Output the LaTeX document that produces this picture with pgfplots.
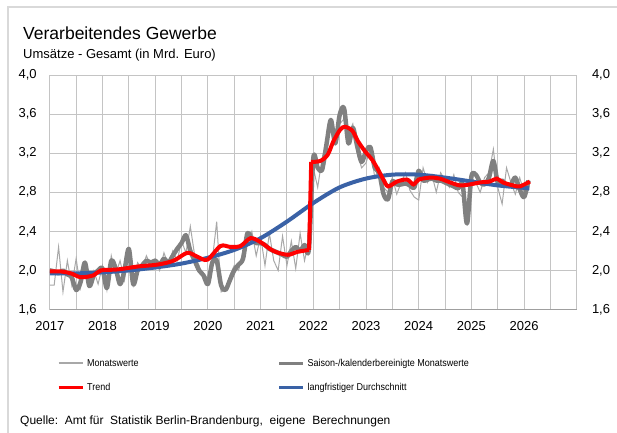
\documentclass[border=0pt]{standalone}
\usepackage{pgfplots}
\pgfplotsset{compat=1.18}
\usepackage{pgfplotstable}
\usepackage{fontspec}
\setmainfont{Liberation Sans}
\newfontfamily\narrowfont[FakeStretch=0.9]{Liberation Sans}

\definecolor{gridc}{HTML}{C4C4C4}
\definecolor{dgray}{HTML}{808080}
\definecolor{lgray}{HTML}{A8A8A8}
\definecolor{trendred}{HTML}{FF0000}
\definecolor{avgblue}{HTML}{3A62A6}
\definecolor{framec}{HTML}{D9D9D9}

% monthly values from Jan 2017 (m=0)
\pgfplotstableread{
m lg dg
0 1.85 2.00
1 1.85 1.99
2 2.24 1.97
3 1.78 2.00
4 2.10 1.96
5 1.85 1.93
6 2.12 1.80
7 1.82 1.88
8 2.05 2.08
9 1.95 1.84
10 2.00 1.95
11 1.86 2.00
12 2.05 2.02
13 1.80 1.82
14 2.15 2.10
15 1.96 2.02
16 2.10 1.86
17 1.90 2.00
18 2.20 2.22
19 1.85 1.86
20 2.08 2.00
21 2.02 2.05
22 2.15 2.10
23 2.05 2.08
24 2.12 2.10
25 2.00 2.06
26 2.18 2.12
27 2.05 2.08
28 2.20 2.15
29 2.10 2.22
30 2.30 2.28
31 2.18 2.36
32 2.45 2.20
33 2.15 2.10
34 2.05 2.00
35 1.90 1.95
36 1.95 1.86
37 2.10 2.08
38 2.50 2.10
39 1.78 1.85
40 1.80 1.80
41 1.95 1.90
42 2.05 2.00
43 2.00 2.06
44 2.20 2.12
45 2.30 2.38
46 2.40 2.32
47 2.15 2.28
48 2.35 2.28
49 2.05 2.26
50 2.38 2.22
51 2.10 2.20
52 2.00 2.18
53 2.35 2.16
54 2.05 2.14
55 2.30 2.20
56 2.02 2.24
57 2.38 2.20
58 2.10 2.26
59 2.30 2.22
60 3.05 3.15
61 2.85 3.05
62 3.15 3.03
63 3.30 3.29
64 3.45 3.54
65 3.40 3.30
66 3.50 3.59
67 3.55 3.66
68 3.40 3.30
69 3.50 3.46
70 3.20 3.27
71 3.05 3.11
72 3.10 3.22
73 3.25 3.26
74 2.95 3.05
75 3.05 3.00
76 2.85 2.78
77 2.80 2.73
78 2.95 2.91
79 2.78 2.88
80 2.90 2.88
81 3.00 2.89
82 2.82 2.87
83 2.75 2.85
84 2.72 3.02
85 3.05 2.92
86 2.90 2.93
87 2.98 2.94
88 2.80 2.92
89 3.00 2.92
90 2.92 2.90
91 2.85 2.88
92 2.98 2.86
93 2.80 2.84
94 2.75 2.88
95 2.55 2.48
96 2.95 2.96
97 2.90 2.98
98 2.80 2.90
99 2.95 2.88
100 3.00 2.95
101 3.24 3.12
102 2.85 2.90
103 2.68 2.92
104 3.05 2.87
105 2.90 2.88
106 2.78 2.95
107 2.95 2.83
108 2.80 2.75
109 2.82 2.92
}\monthly

\pgfplotstableread{
x y
2017.00 1.99
2017.20 1.99
2017.40 1.97
2017.59 1.93
2017.83 1.95
2017.97 2.00
2018.29 2.01
2018.67 2.04
2019.05 2.06
2019.35 2.10
2019.61 2.18
2019.80 2.14
2019.99 2.11
2020.24 2.25
2020.43 2.24
2020.62 2.25
2020.81 2.33
2021.00 2.29
2021.24 2.20
2021.51 2.16
2021.70 2.19
2021.92 2.21
}\trendA

\pgfplotstableread{
x y
2021.92 2.21
2021.96 3.11
}\trendB

\pgfplotstableread{
x y
2021.96 3.11
2022.13 3.12
2022.27 3.18
2022.38 3.32
2022.51 3.44
2022.60 3.47
2022.74 3.43
2022.85 3.32
2022.98 3.22
2023.12 3.13
2023.23 3.03
2023.33 2.93
2023.42 2.86
2023.59 2.91
2023.78 2.93
2023.90 2.88
2024.00 2.93
2024.22 2.95
2024.40 2.94
2024.60 2.90
2024.78 2.87
2024.97 2.88
2025.16 2.90
2025.35 2.91
2025.48 2.94
2025.60 2.90
2025.79 2.87
2025.92 2.86
2026.11 2.91
}\trendC

\pgfplotstableread{
x y
2017.0 1.97
2017.5 1.97
2018.0 1.98
2018.5 2.00
2019.0 2.03
2019.5 2.07
2020.0 2.13
2020.5 2.21
2021.0 2.33
2021.5 2.50
2022.0 2.69
2022.5 2.85
2023.0 2.94
2023.5 2.98
2024.0 2.98
2024.5 2.95
2025.0 2.91
2025.5 2.87
2026.1 2.84
}\average

\begin{document}
\begin{tikzpicture}
\useasboundingbox (0,0) rectangle (617pt,432pt);
\fill[white] (0,0) rectangle (617pt,432pt);
\draw[framec, line width=2pt] (8pt,-10pt) -- (8pt,425pt) -- (630pt,425pt);

\node[anchor=base west, inner sep=0pt, font=\fontsize{17.5}{20}\selectfont] at (23pt,392pt) {Verarbeitendes Gewerbe};
\node[anchor=base west, inner sep=0pt, font=\fontsize{13}{15}\selectfont] at (23pt,373.7pt) {Umsätze - Gesamt (in Mrd. Euro)};
\node[anchor=base west, inner sep=0pt, font=\fontsize{12}{14}\selectfont] at (20pt,7.7pt) {Quelle:\ \ Amt für\ \ Statistik Berlin-Brandenburg,\ \ eigene\ \ Berechnungen};

\begin{axis}[
  scale only axis, width=527pt, height=234.5pt,
  at={(49.8pt,122.5pt)}, anchor=south west,
  xmin=2017, xmax=2027, ymin=1.6, ymax=4.0,
  xtick={2017,2018,2019,2020,2021,2022,2023,2024,2025,2026,2027},
  xticklabels={2017,2018,2019,2020,2021,2022,2023,2024,2025,2026,{}},
  minor xtick={2017.5,2018.5,2019.5,2020.5,2021.5,2022.5,2023.5,2024.5,2025.5,2026.5},
  ytick={1.6,2.0,2.4,2.8,3.2,3.6,4.0},
  grid=both,
  major grid style={gridc, line width=1pt},
  minor grid style={gridc, line width=1pt},
  axis line style={draw=none},
  major tick length=0pt, minor tick length=0pt,
  tick label style={font=\fontsize{13}{15}\selectfont},
  yticklabel style={anchor=east, inner sep=0pt, xshift=-13pt,
    /pgf/number format/.cd, fixed, fixed zerofill, precision=1, use comma, assume math mode=true},
  xticklabel style={anchor=north, inner sep=0pt, yshift=-12pt},
  legend image code/.code={\draw[#1] (0pt,0pt) -- (24pt,0pt);},
  legend columns=2,
  legend style={draw=none, fill=none, inner sep=0pt,
    at={(0.01366,-0.2026)}, anchor=north west,
    font=\narrowfont\fontsize{10}{12}\selectfont,
    nodes={inner sep=1pt, text height=8pt, text depth=2pt, anchor=west},
    /tikz/column sep=2pt, row sep=12pt,
    /tikz/every even column/.append style={column sep=138pt}},
  legend cell align=left,
  after end axis/.code={\draw[gray!75, line width=1.3pt] (rel axis cs:0,0) -- (rel axis cs:1,0);},
]
\addplot[lgray, line width=1pt, forget plot] table[x expr=2017+\thisrow{m}/12, y=lg] {\monthly};
\addplot[dgray, line width=4.5pt, smooth, line join=round, forget plot] table[x expr=2017+\thisrow{m}/12, y=dg] {\monthly};
\addplot[avgblue, line width=4pt, smooth, forget plot] table {\average};
\addplot[trendred, line width=4pt, smooth, forget plot] table {\trendA};
\addplot[trendred, line width=4pt, forget plot] table {\trendB};
\addplot[trendred, line width=4pt, smooth, forget plot] table {\trendC};

\addlegendimage{lgray, line width=1.5pt}
\addlegendentry{Monatswerte}
\addlegendimage{dgray, line width=3pt}
\addlegendentry{Saison-/kalenderbereinigte Monatswerte}
\addlegendimage{trendred, line width=3pt}
\addlegendentry{Trend}
\addlegendimage{avgblue, line width=3pt}
\addlegendentry{langfristiger Durchschnitt}
\end{axis}

\begin{axis}[
  scale only axis, width=527pt, height=234.5pt,
  at={(49.8pt,122.5pt)}, anchor=south west,
  xmin=2017, xmax=2027, ymin=1.6, ymax=4.0,
  axis x line=none, axis y line*=right,
  y axis line style={draw=none},
  xtick=\empty,
  ytick={1.6,2.0,2.4,2.8,3.2,3.6,4.0},
  major tick length=0pt,
  tick label style={font=\fontsize{13}{15}\selectfont},
  yticklabel style={anchor=west, inner sep=0pt, xshift=15pt,
    /pgf/number format/.cd, fixed, fixed zerofill, precision=1, use comma, assume math mode=true},
]
\end{axis}
\end{tikzpicture}
\end{document}
